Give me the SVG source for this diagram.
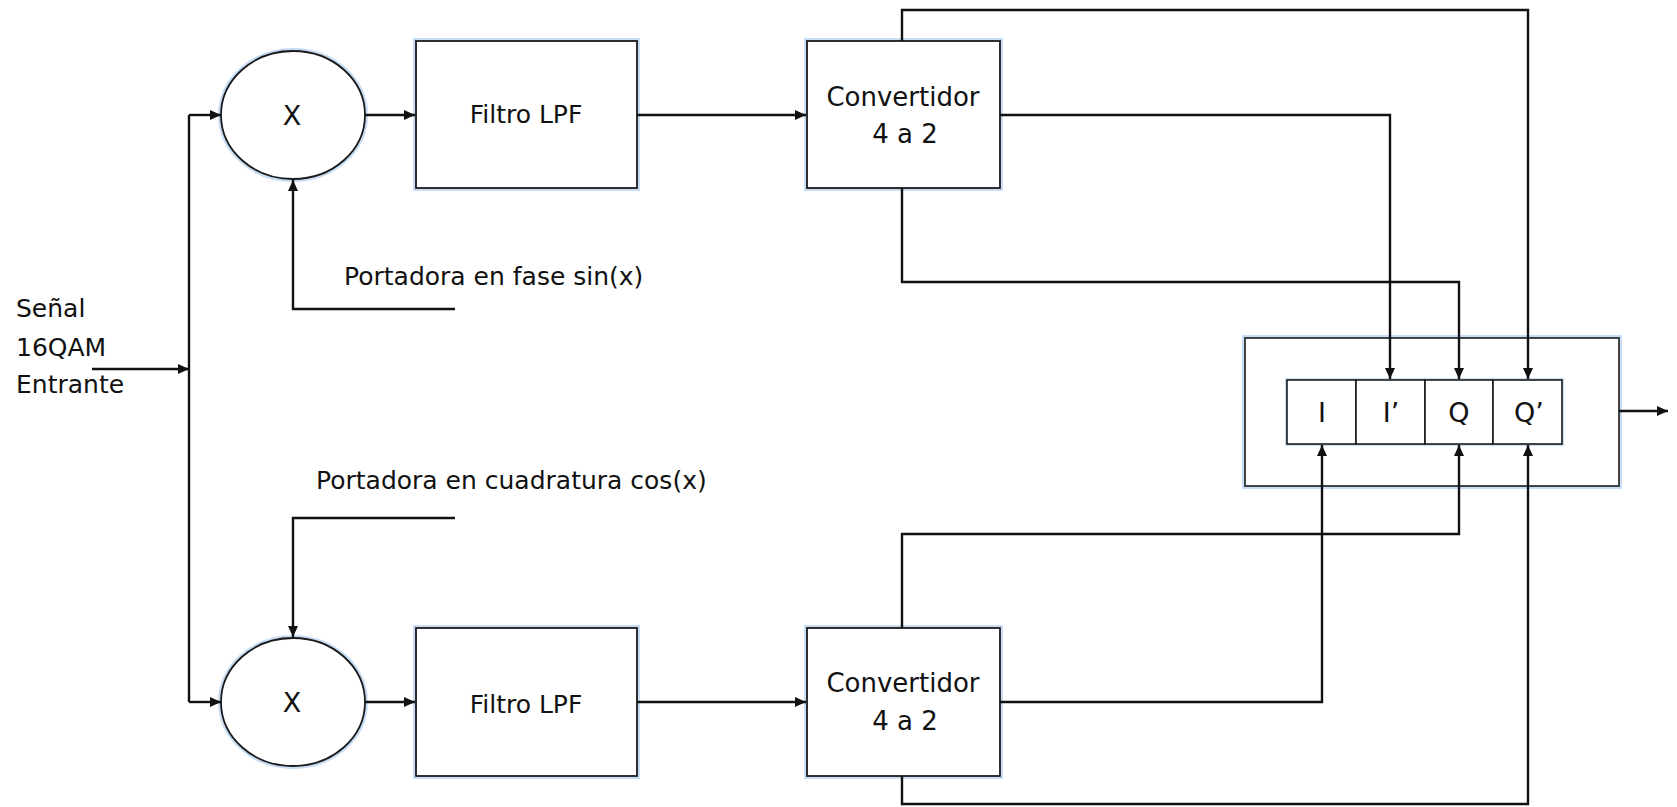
<svg xmlns="http://www.w3.org/2000/svg" width="1677" height="807" viewBox="0 0 1677 807">
<style>
  text { font-family: "DejaVu Sans", "Liberation Sans", sans-serif; font-size: 25px; fill: #111; }
  .c { text-anchor: middle; }
  .box { fill: #fff; stroke: #1a1a1a; stroke-width: 1.8; }
  .glow { fill: none; stroke: #c7ddf3; stroke-width: 6; }
  .ln { fill: none; stroke: #111; stroke-width: 2.4; }
  .lnc { fill: none; stroke: #111; stroke-width: 2.4; marker-end: url(#ah); }
  .cell { font-size: 27px; }
</style>
<defs>
  <marker id="ah" markerUnits="userSpaceOnUse" markerWidth="11" markerHeight="10" refX="11" refY="5" orient="auto">
    <path d="M0,0 L11,5 L0,10 z" fill="#111"/>
  </marker>
</defs>
<rect width="1677" height="807" fill="#fff"/>

<g id="input-label">
  <text x="16" y="317">Señal</text>
  <text x="16" y="356">16QAM</text>
  <text x="16" y="393">Entrante</text>
</g>

<g id="mixer-top">
  <ellipse class="glow" cx="293" cy="115" rx="72" ry="64"/>
  <ellipse class="box" cx="293" cy="115" rx="72" ry="64"/>
  <text class="c" x="292" y="125" style="font-size:27px">X</text>
</g>
<g id="mixer-bottom">
  <ellipse class="glow" cx="293" cy="702" rx="72" ry="64"/>
  <ellipse class="box" cx="293" cy="702" rx="72" ry="64"/>
  <text class="c" x="292" y="712" style="font-size:27px">X</text>
</g>

<g id="lpf-top">
  <rect class="glow" x="416" y="41" width="221" height="147"/>
  <rect class="box" x="416" y="41" width="221" height="147"/>
  <text class="c" x="526" y="123">Filtro LPF</text>
</g>
<g id="lpf-bottom">
  <rect class="glow" x="416" y="628" width="221" height="148"/>
  <rect class="box" x="416" y="628" width="221" height="148"/>
  <text class="c" x="526" y="713">Filtro LPF</text>
</g>

<g id="conv-top">
  <rect class="glow" x="807" y="41" width="193" height="147"/>
  <rect class="box" x="807" y="41" width="193" height="147"/>
  <text class="c" x="903" y="106" style="font-size:26px">Convertidor</text>
  <text class="c" x="905" y="143" style="font-size:26px">4 a 2</text>
</g>
<g id="conv-bottom">
  <rect class="glow" x="807" y="628" width="193" height="148"/>
  <rect class="box" x="807" y="628" width="193" height="148"/>
  <text class="c" x="903" y="692" style="font-size:26px">Convertidor</text>
  <text class="c" x="905" y="730" style="font-size:26px">4 a 2</text>
</g>

<g id="carrier-labels">
  <text x="344" y="285">Portadora en fase sin(x)</text>
  <text x="316" y="489">Portadora en cuadratura cos(x)</text>
</g>

<g id="output-register">
  <rect class="glow" x="1245" y="338" width="374" height="148"/>
  <rect class="box" x="1245" y="338" width="374" height="148" style="stroke-width:1.6"/>
  <rect class="glow" x="1287" y="380" width="275" height="64" style="stroke-width:4"/>
  <g id="cell-I">
    <rect class="box" x="1287" y="380" width="69" height="64" style="stroke-width:1.6"/>
    <text class="c cell" x="1322" y="422">I</text>
  </g>
  <g id="cell-I2">
    <rect class="box" x="1356" y="380" width="69" height="64" style="stroke-width:1.6"/>
    <text class="c cell" x="1391" y="422">I’</text>
  </g>
  <g id="cell-Q">
    <rect class="box" x="1425" y="380" width="68" height="64" style="stroke-width:1.6"/>
    <text class="c cell" x="1459" y="422">Q</text>
  </g>
  <g id="cell-Q2">
    <rect class="box" x="1493" y="380" width="69" height="64" style="stroke-width:1.6"/>
    <text class="c cell" x="1529" y="422">Q’</text>
  </g>
</g>

<g id="connectors">
  <path class="lnc" d="M92,369 H189"/>
  <path class="ln" d="M189,115 V702"/>
  <path class="lnc" d="M189,115 H221"/>
  <path class="lnc" d="M189,702 H221"/>
  <path class="lnc" d="M455,309 H293 V180"/>
  <path class="lnc" d="M455,518 H293 V637"/>
  <path class="lnc" d="M365,115 H415"/>
  <path class="lnc" d="M365,702 H415"/>
  <path class="lnc" d="M637,115 H806"/>
  <path class="lnc" d="M637,702 H806"/>
  <path class="lnc" d="M902,41 V10 H1528 V379"/>
  <path class="lnc" d="M1000,115 H1390 V379"/>
  <path class="lnc" d="M902,188 V282 H1459 V379"/>
  <path class="lnc" d="M902,628 V534 H1459 V445"/>
  <path class="lnc" d="M1000,702 H1322 V445"/>
  <path class="lnc" d="M902,776 V804 H1528 V445"/>
  <path class="lnc" d="M1619,411 H1668"/>
</g>
</svg>
